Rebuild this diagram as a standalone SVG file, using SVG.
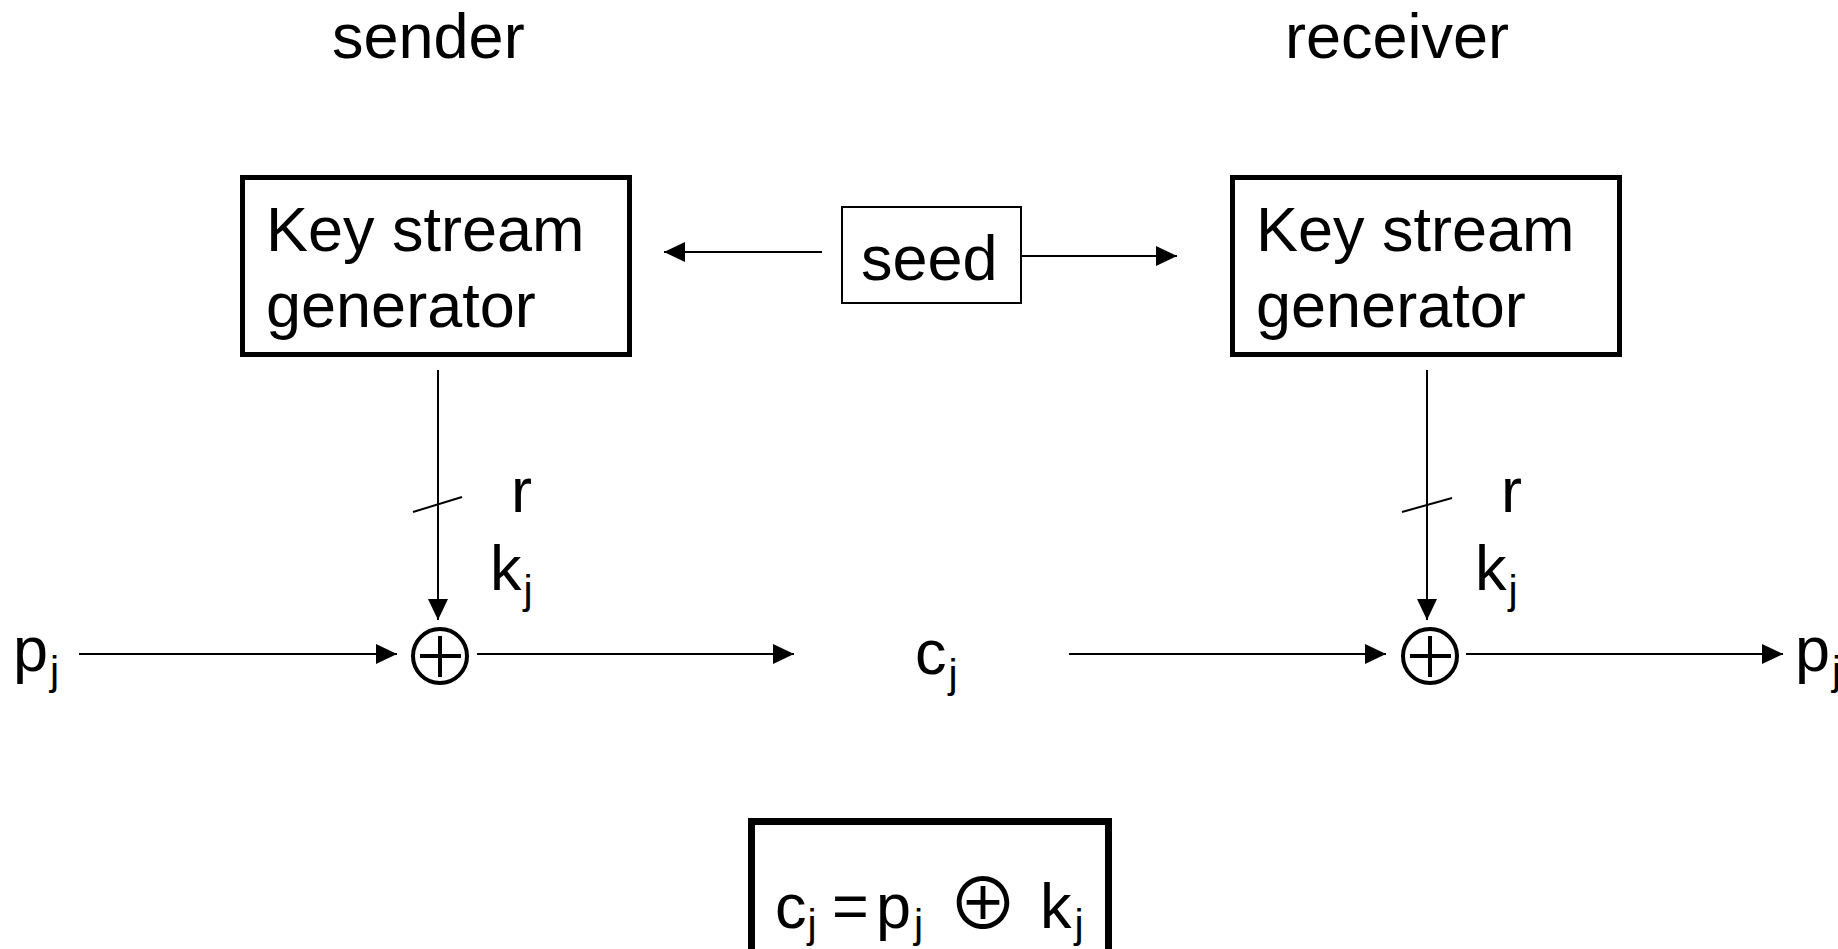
<svg xmlns="http://www.w3.org/2000/svg" width="1838" height="949" viewBox="0 0 1838 949">
  <style>
    .t { font-family: "Liberation Sans", Arial, sans-serif; font-size: 63px; fill: #000; }
    .sub { font-size: 41px; }
    .op { font-family: "Noto Sans CJK JP", "DejaVu Sans", sans-serif; font-size: 71px; fill: #000; }
    .box { fill: #fff; stroke: #000; }
    .wire { stroke: #000; stroke-width: 2; fill: none; }
    .xor circle { fill: #fff; stroke: #000; stroke-width: 4; }
    .xor line { stroke: #000; stroke-width: 4; }
  </style>
  <defs>
    <marker id="arrow" markerUnits="userSpaceOnUse" markerWidth="21" markerHeight="20" refX="21" refY="10" orient="auto">
      <path d="M0,0 L21,10 L0,20 z" fill="#000"/>
    </marker>
  </defs>
  <rect width="1838" height="949" fill="#fff"/>

  <!-- column headings -->
  <text id="sender" class="t" x="332" y="58">sender</text>
  <text id="receiver" class="t" x="1285" y="58">receiver</text>

  <!-- connectors -->
  <g id="connectors">
    <line class="wire" x1="822" y1="252" x2="664" y2="252" marker-end="url(#arrow)"/>
    <line class="wire" x1="1021" y1="256" x2="1177" y2="256" marker-end="url(#arrow)"/>
    <line class="wire" x1="438" y1="370" x2="438" y2="620" marker-end="url(#arrow)"/>
    <line class="wire" x1="1427" y1="370" x2="1427" y2="620" marker-end="url(#arrow)"/>
    <line class="wire" x1="79" y1="654" x2="397" y2="654" marker-end="url(#arrow)"/>
    <line class="wire" x1="477" y1="654" x2="794" y2="654" marker-end="url(#arrow)"/>
    <line class="wire" x1="1069" y1="654" x2="1386" y2="654" marker-end="url(#arrow)"/>
    <line class="wire" x1="1466" y1="654" x2="1783" y2="654" marker-end="url(#arrow)"/>
    <!-- r-bit bus ticks -->
    <line class="wire" x1="413" y1="512" x2="462" y2="497"/>
    <line class="wire" x1="1402" y1="512" x2="1452" y2="498"/>
  </g>

  <!-- sender key stream generator -->
  <g id="ksg-sender">
    <rect class="box" x="242.5" y="177.5" width="387" height="177" stroke-width="5"/>
    <text class="t" x="266" y="251">Key stream</text>
    <text class="t" x="266" y="327">generator</text>
  </g>

  <!-- receiver key stream generator -->
  <g id="ksg-receiver">
    <rect class="box" x="1232.5" y="177.5" width="387" height="177" stroke-width="5"/>
    <text class="t" x="1256" y="251">Key stream</text>
    <text class="t" x="1256" y="327">generator</text>
  </g>

  <!-- shared seed -->
  <g id="seed">
    <rect class="box" x="842" y="207" width="179" height="96" stroke-width="2"/>
    <text class="t" x="861" y="280">seed</text>
  </g>

  <!-- sender XOR -->
  <g id="xor-sender" class="xor">
    <circle cx="440" cy="656" r="27"/>
    <line x1="420" y1="656" x2="461" y2="656"/>
    <line x1="440" y1="636" x2="440" y2="677"/>
  </g>

  <!-- receiver XOR -->
  <g id="xor-receiver" class="xor">
    <circle cx="1430" cy="656" r="27"/>
    <line x1="1410" y1="656" x2="1451" y2="656"/>
    <line x1="1430" y1="636" x2="1430" y2="677"/>
  </g>

  <!-- signal labels -->
  <g id="labels">
    <text id="p-in" class="t" x="13" y="671">p<tspan class="sub" dx="2" dy="14">j</tspan></text>
    <text id="c-out" class="t" x="915" y="674">c<tspan class="sub" dx="2" dy="14">j</tspan></text>
    <text id="p-out" class="t" x="1795" y="671">p<tspan class="sub" dx="2" dy="14">j</tspan></text>
    <text id="r-sender" class="t" x="511" y="512">r</text>
    <text id="k-sender" class="t" x="490" y="590">k<tspan class="sub" dx="2" dy="14">j</tspan></text>
    <text id="r-receiver" class="t" x="1501" y="512">r</text>
    <text id="k-receiver" class="t" x="1475" y="590">k<tspan class="sub" dx="2" dy="14">j</tspan></text>
  </g>

  <!-- encryption rule -->
  <g id="formula">
    <rect class="box" x="751.5" y="821.5" width="357" height="150" stroke-width="7"/>
    <text class="t" x="775" y="928">c<tspan class="sub" dx="1" dy="10">j</tspan></text>
    <text class="t" x="832" y="928">=</text>
    <text class="t" x="876" y="928">p<tspan class="sub" dx="3" dy="10">j</tspan></text>
    <text class="op" x="983" y="929" text-anchor="middle">⊕</text>
    <text class="t" x="1040" y="928">k<tspan class="sub" dx="3" dy="10">j</tspan></text>
  </g>
</svg>
